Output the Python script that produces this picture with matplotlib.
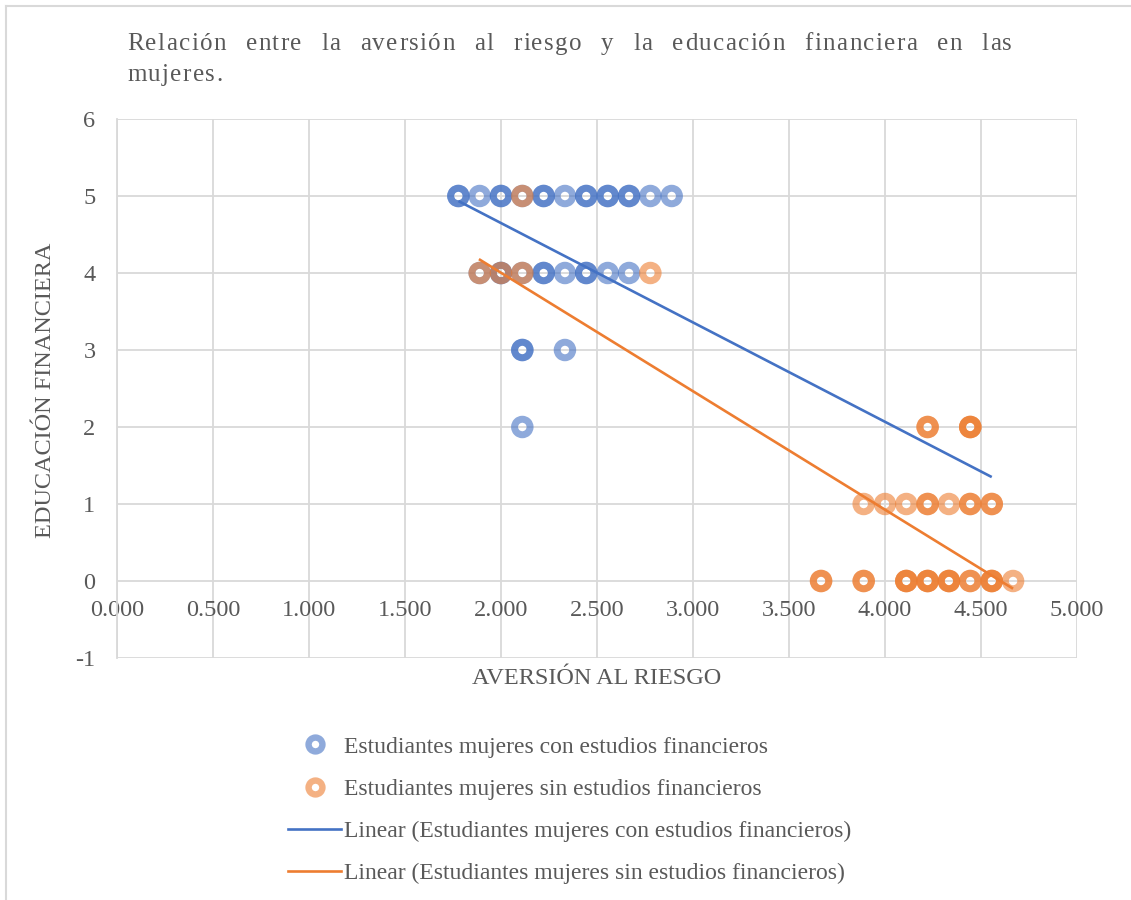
import numpy as np
import matplotlib
matplotlib.use("Agg")
import matplotlib.pyplot as plt
from matplotlib.lines import Line2D

plt.rcParams['font.family'] = ['Liberation Serif', 'DejaVu Serif']
plt.rcParams['axes.unicode_minus'] = False

# --- data (repeated pairs = overlapping students) ---
con_x = [1.778, 1.778, 1.889, 2.000, 2.000, 2.111, 2.222, 2.222, 2.333, 2.444, 2.444,
         2.556, 2.556, 2.667, 2.667, 2.778, 2.889,
         1.889, 2.000, 2.000, 2.111, 2.222, 2.222, 2.333, 2.444, 2.444, 2.556, 2.667,
         2.111, 2.111, 2.333,
         2.111]
con_y = [5, 5, 5, 5, 5, 5, 5, 5, 5, 5, 5,
         5, 5, 5, 5, 5, 5,
         4, 4, 4, 4, 4, 4, 4, 4, 4, 4, 4,
         3, 3, 3,
         2]

sin_x = [2.111,
         1.889, 2.000, 2.111, 2.778,
         4.222, 4.222, 4.444, 4.444, 4.444,
         3.889, 4.000, 4.111, 4.222, 4.222, 4.333, 4.444, 4.444, 4.556, 4.556,
         3.667, 3.667, 3.889, 3.889, 4.111, 4.111, 4.111, 4.222, 4.222, 4.222,
         4.333, 4.333, 4.333, 4.444, 4.444, 4.556, 4.556, 4.556, 4.667]
sin_y = [5,
         4, 4, 4, 4,
         2, 2, 2, 2, 2,
         1, 1, 1, 1, 1, 1, 1, 1, 1, 1,
         0, 0, 0, 0, 0, 0, 0, 0, 0, 0,
         0, 0, 0, 0, 0, 0, 0, 0, 0]

# trend line end points as Excel drew them
trend_con_x = [1.778, 4.556]
trend_con_y = [4.935, 1.35]
trend_sin_x = [1.885, 4.667]
trend_sin_y = [4.18, -0.10]

x_ticks = [0.0, 0.5, 1.0, 1.5, 2.0, 2.5, 3.0, 3.5, 4.0, 4.5, 5.0]
y_ticks = [-1, 0, 1, 2, 3, 4, 5, 6]

title_line1 = "Relación entre la aversión al riesgo y la educación financiera en las"
title_line2 = "mujeres."
x_label = "AVERSIÓN AL RIESGO"
y_label = "EDUCACIÓN FINANCIERA"
labels = ["Estudiantes mujeres con estudios financieros",
          "Estudiantes mujeres sin estudios financieros",
          "Linear (Estudiantes mujeres con estudios financieros)",
          "Linear (Estudiantes mujeres sin estudios financieros)"]

blue = '#4472C4'
orange = '#ED7D31'
txt = '#595959'
grid = '#d9d9d9'

W, H = 1131, 900
fig = plt.figure(figsize=(W / 100, H / 100), dpi=100)
ax = fig.add_axes([117 / W, 1 - 658 / H, 960 / W, 539 / H])

# markers: thick semi transparent ring with empty centre (Excel look)
ax.scatter(con_x, con_y, s=125, facecolors='none', edgecolors=blue, alpha=0.6,
           linewidths=5.0, zorder=3)
ax.scatter(sin_x, sin_y, s=125, facecolors='none', edgecolors=orange, alpha=0.6,
           linewidths=5.0, zorder=4)
ax.plot(trend_con_x, trend_con_y, color=blue, lw=1.9, zorder=5, solid_capstyle='butt')
ax.plot(trend_sin_x, trend_sin_y, color=orange, lw=1.9, zorder=5, solid_capstyle='butt')

ax.set_xlim(0, 5)
ax.set_ylim(-1, 6)
ax.set_xticks(x_ticks)
ax.set_xticklabels(["%.3f" % v for v in x_ticks])
ax.set_yticks(y_ticks)
ax.grid(True, color=grid, lw=1.3, zorder=0)
for s in ['top', 'right', 'bottom']:
    ax.spines[s].set_visible(False)
ax.spines['left'].set_color(grid)
ax.spines['left'].set_linewidth(1.3)
ax.spines['bottom'].set_position(('data', 0))
ax.tick_params(axis='both', length=0, labelsize=17.5, colors=txt)
ax.tick_params(axis='x', pad=14)
ax.tick_params(axis='y', pad=15.5)

fig.text(597 / W, 1 - 678 / H, x_label, ha='center', va='center', fontsize=17.5, color=txt)
fig.text(46 / W, 1 - 390 / H, y_label, ha='center', va='center', rotation=90,
         fontsize=17.5, color=txt)

# title: letter spaced and justified between x=127 and x=1012
renderer = fig.canvas.get_renderer()
tsize = 18
track = 1.4


def prefix_widths(word):
    out = [0.0]
    for i in range(1, len(word) + 1):
        t = fig.text(0, 0, word[:i], fontsize=tsize)
        out.append(t.get_window_extent(renderer).width)
        t.remove()
    return out


words = title_line1.split()
pw = [prefix_widths(w) for w in words]
n_track = sum(len(w) - 1 for w in words)
base = sum(p[-1] for p in pw)
word_gap = (1012 - 127 - base - track * n_track) / (len(words) - 1)


def draw_spaced(word, p, x0, ybase):
    for i, ch in enumerate(word):
        fig.text((x0 + p[i] + i * track) / W, 1 - ybase / H, ch, fontsize=tsize,
                 color=txt, ha='left', va='baseline')
    return x0 + p[-1] + (len(word) - 1) * track


xpos = 127
for w, p in zip(words, pw):
    xpos = draw_spaced(w, p, xpos, 50) + word_gap
draw_spaced(title_line2, prefix_widths(title_line2), 127, 81)

# legend
handles = [
    Line2D([], [], ls='none', marker='o', markersize=10, markerfacecolor='none',
           markeredgecolor=blue, markeredgewidth=4.6, alpha=0.6),
    Line2D([], [], ls='none', marker='o', markersize=10, markerfacecolor='none',
           markeredgecolor=orange, markeredgewidth=4.6, alpha=0.6),
    Line2D([], [], color=blue, lw=1.9),
    Line2D([], [], color=orange, lw=1.9),
]
leg = fig.legend(handles, labels, loc='upper left', bbox_to_anchor=(288 / W, 1 - 736 / H),
                 frameon=False, fontsize=17, labelcolor=txt, handlelength=2.25,
                 handletextpad=0.12, labelspacing=0.88, borderaxespad=0, borderpad=0)

# chart area border (only top and left visible in the crop)
fig.add_artist(Line2D([6 / W, 1], [1 - 6 / H, 1 - 6 / H], color=grid, lw=1.5))
fig.add_artist(Line2D([6 / W, 6 / W], [0, 1 - 6 / H], color=grid, lw=1.5))

fig.savefig('out.png', dpi=100)
